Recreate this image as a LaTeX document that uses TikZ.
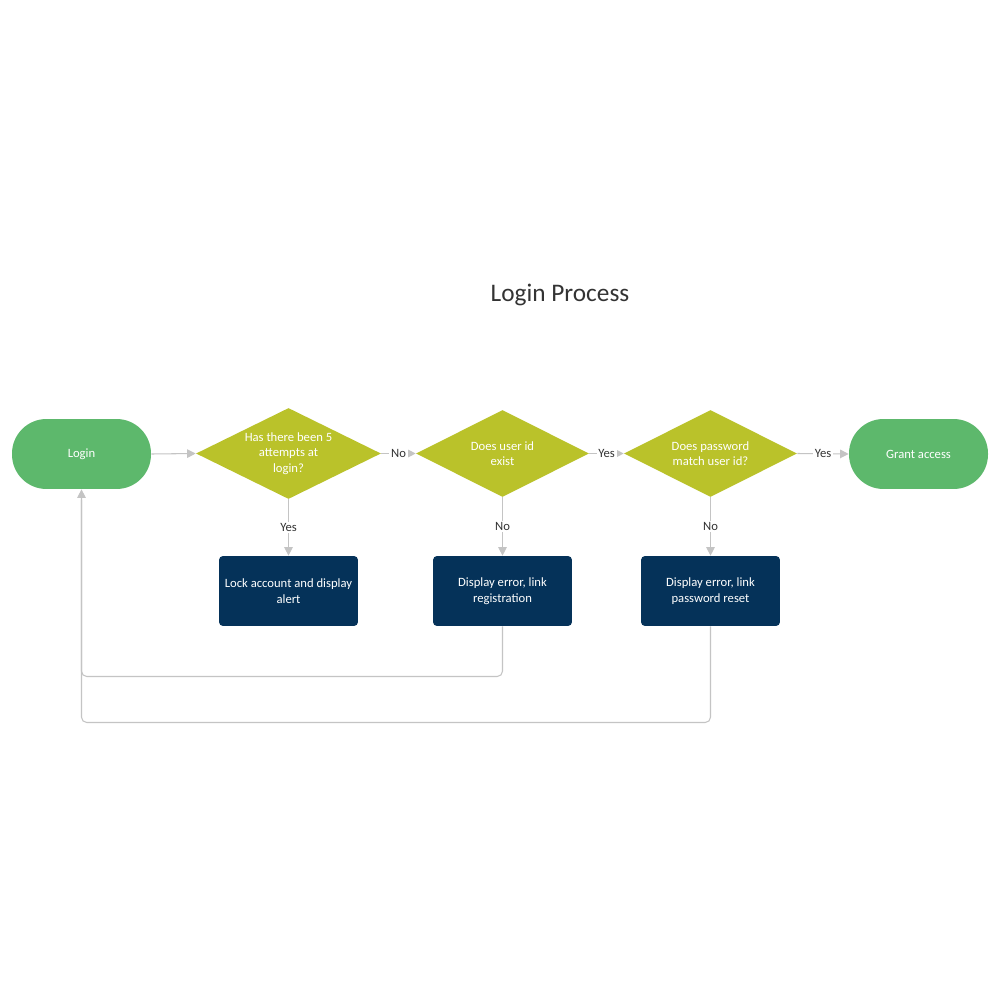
\documentclass[tikz,border=0pt]{standalone}
\usepackage{fontspec}
\setmainfont{Carlito}
\usetikzlibrary{shapes.geometric,arrows.meta}
\definecolor{termgreen}{HTML}{5DB86C}
\definecolor{decolive}{HTML}{BAC22A}
\definecolor{procnavy}{HTML}{053259}
\definecolor{linegray}{HTML}{C4C4C4}
\definecolor{labelgray}{HTML}{333333}
\tikzset{
  term/.style={fill=termgreen, draw=none, minimum width=2.78cm, minimum height=1.4cm, rounded corners=0.69cm, text=white, font=\fontsize{7.2}{8.8}\selectfont, inner sep=0pt},
  dia/.style={diamond, fill=decolive, draw=none, inner sep=0pt},
  dtext/.style={text=white, font=\fontsize{7.2}{8.8}\selectfont, align=center, inner sep=0pt},
  proc/.style={fill=procnavy, draw=none, minimum width=2.78cm, minimum height=1.4cm, rounded corners=0.08cm, text=white, font=\fontsize{7.2}{8.8}\selectfont, align=center, inner sep=0pt},
  flow/.style={draw=linegray, line width=0.6pt, -{Triangle[length=0.17cm,width=0.17cm,color=linegray]}},
  plain/.style={draw=linegray, line width=0.6pt},
  lbl/.style={fill=white, text=labelgray, font=\fontsize{7.2}{8.8}\selectfont, inner sep=1pt},
  title/.style={text=labelgray, font=\fontsize{14.4}{17}\selectfont, inner sep=0pt}
}
\begin{document}
\begin{tikzpicture}[x=0.02cm, y=-0.02cm]
\useasboundingbox[fill=white] (0,0) rectangle (1000,1000);
\node[title] (title) at (560,295) {Login Process};
\node[term] (login) at (81.5,454) {Login};
\node[term] (grant) at (918.5,454) {Grant access};
\node[dia, minimum width=3.7cm, minimum height=1.82cm] (d1) at (288.5,453.5) {};
\node[dtext] (d1t) at (d1) {Has there been 5\\attempts at\\login?};
\node[dia, minimum width=3.46cm, minimum height=1.74cm] (d2) at (502.5,453.5) {};
\node[dtext] (d2t) at (d2) {Does user id\\exist};
\node[dia, minimum width=3.46cm, minimum height=1.74cm] (d3) at (710.5,453.5) {};
\node[dtext] (d3t) at (d3) {Does password\\match user id?};
\node[proc] (lock) at (288.5,591) {Lock account and display\\alert};
\node[proc] (reg) at (502.5,591) {Display error, link\\registration};
\node[proc] (pwd) at (710.5,591) {Display error, link\\password reset};
% horizontal flow
\draw[flow] (login.east) -- (d1.west);
\draw[flow] (d1.east) -- node[lbl] (lno1) {No} (d2.west);
\draw[flow] (d2.east) -- node[lbl] (lyes1) {Yes} (d3.west);
\draw[flow] (d3.east) -- node[lbl] (lyes2) {Yes} (grant.west);
% vertical flow
\draw[flow] (d1.south) -- node[lbl, pos=0.5] (lyes3) {Yes} (lock.north);
\draw[flow] (d2.south) -- node[lbl, pos=0.5] (lno2) {No} (reg.north);
\draw[flow] (d3.south) -- node[lbl, pos=0.5] (lno3) {No} (pwd.north);
% return paths
\draw[plain, rounded corners=3] (reg.south) -- (502.5,676.5) -- (81.5,676.5) -- (81.5,500);
\draw[flow, rounded corners=3] (pwd.south) -- (710.5,722.5) -- (81.5,722.5) -- (login.south);
\end{tikzpicture}
\end{document}
